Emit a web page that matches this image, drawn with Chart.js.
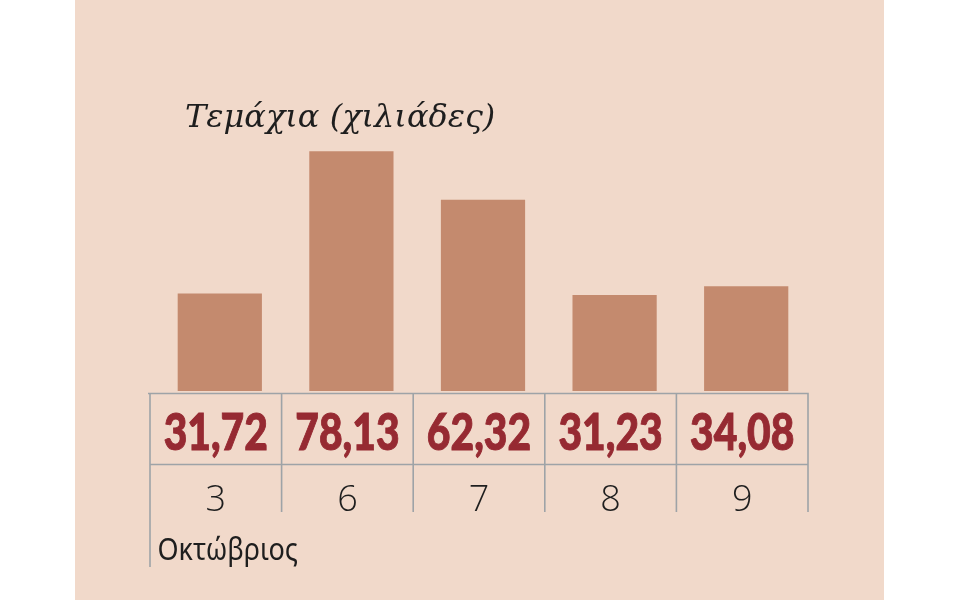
<!DOCTYPE html>
<html>
<head>
<meta charset="utf-8">
<script src="https://cdn.jsdelivr.net/npm/chart.js@4.4.1/dist/chart.umd.min.js"></script>
<style>
  html, body { margin: 0; padding: 0; background: #ffffff; }
  canvas { display: block; }
</style>
</head>
<body>
<canvas id="c" width="960" height="600"></canvas>
<script>
// ---- data ----
const categories = ['3', '6', '7', '8', '9'];
const values = [31.72, 78.13, 62.32, 31.23, 34.08];
const valueLabels = ['31,72', '78,13', '62,32', '31,23', '34,08'];
const titleText = 'Τεμάχια (χιλιάδες)';
const monthText = 'Οκτώβριος';

// ---- styles ----
const PANEL = '#F1D9CA';
const BAR = '#C48A6E';
const GRID = '#9EA3A7';
const VALUE_COLOR = '#962A32';
const TEXT = '#1E1E1E';

const tablePlugin = {
  id: 'tablePlugin',
  beforeDraw(chart) {
    const ctx = chart.ctx;
    ctx.save();
    ctx.fillStyle = PANEL;
    ctx.fillRect(75, 0, 809, 600);
    ctx.restore();
  },
  afterDraw(chart) {
    const ctx = chart.ctx;
    const xs = chart.scales.x;
    const area = chart.chartArea;
    const n = categories.length;
    const half = (area.right - area.left) / n / 2;
    const shift = -4;
    const bounds = [];
    for (let i = 0; i < n; i++) bounds.push(xs.getPixelForValue(i) - half + shift);
    bounds.push(xs.getPixelForValue(n - 1) + half + shift);

    const yTop = area.bottom + 2.5;
    const yMid = area.bottom + 73.5;
    const yEnd = area.bottom + 121;
    const yLeftEnd = area.bottom + 176;

    ctx.save();
    ctx.strokeStyle = GRID;
    ctx.lineWidth = 1.6;
    ctx.beginPath();
    ctx.moveTo(bounds[0] - 2, yTop); ctx.lineTo(bounds[n] + 0.8, yTop);
    ctx.moveTo(bounds[0], yMid); ctx.lineTo(bounds[n] + 0.8, yMid);
    for (let i = 0; i <= n; i++) {
      ctx.moveTo(bounds[i], yTop);
      ctx.lineTo(bounds[i], i === 0 ? yLeftEnd : yEnd);
    }
    ctx.stroke();

    // values
    ctx.fillStyle = VALUE_COLOR;
    ctx.strokeStyle = VALUE_COLOR;
    ctx.lineWidth = 1;
    ctx.font = '900 51px Lato, "Liberation Sans", sans-serif';
    ctx.textAlign = 'center';
    ctx.textBaseline = 'alphabetic';
    for (let i = 0; i < n; i++) {
      const cx = (bounds[i] + bounds[i + 1]) / 2;
      ctx.save();
      ctx.translate(cx, area.bottom + 59);
      ctx.scale(0.8, 1);
      ctx.fillText(valueLabels[i], 0, 0);
      ctx.strokeText(valueLabels[i], 0, 0);
      ctx.restore();
    }

    // category labels
    ctx.fillStyle = TEXT;
    ctx.font = '300 36px "Open Sans", "Noto Sans", sans-serif';
    for (let i = 0; i < n; i++) {
      const cx = (bounds[i] + bounds[i + 1]) / 2;
      ctx.fillText(categories[i], cx, area.bottom + 119.5);
    }

    // month label
    ctx.textAlign = 'left';
    ctx.font = '30px "Noto Sans", sans-serif';
    ctx.save();
    ctx.translate(bounds[0] + 7.5, area.bottom + 169);
    ctx.scale(0.9, 1);
    ctx.fillText(monthText, 0, 0);
    ctx.restore();

    // title
    ctx.font = 'italic 32px "DejaVu Serif", "Liberation Serif", serif';
    ctx.fillText(titleText, 185, 127);
    ctx.restore();
  }
};

new Chart(document.getElementById('c'), {
  type: 'bar',
  data: {
    labels: categories,
    datasets: [{
      data: values,
      backgroundColor: BAR,
      borderWidth: 0,
      barPercentage: 0.64,
      categoryPercentage: 1.0
    }]
  },
  options: {
    responsive: false,
    animation: false,
    devicePixelRatio: 1,
    layout: { padding: { left: 154, right: 148, top: 84, bottom: 209 } },
    plugins: { legend: { display: false }, tooltip: { enabled: false }, title: { display: false } },
    scales: {
      x: { display: false },
      y: { display: false, min: 0, max: 100 }
    }
  },
  plugins: [tablePlugin]
});
</script>
</body>
</html>
